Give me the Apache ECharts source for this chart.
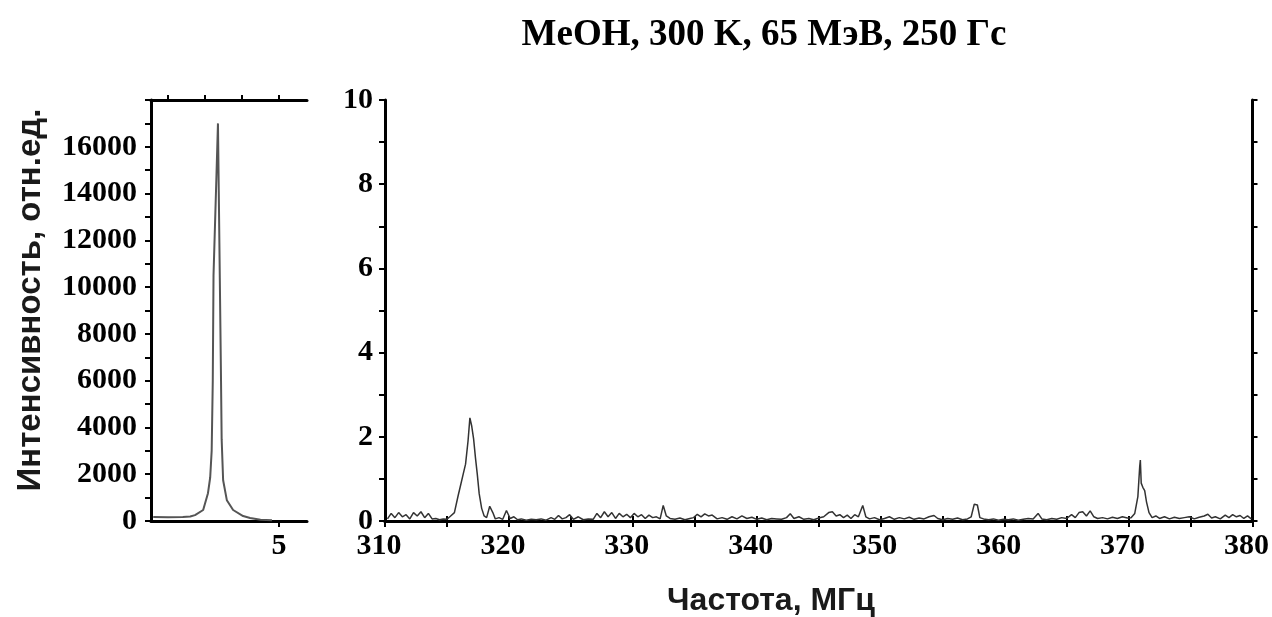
<!DOCTYPE html>
<html>
<head>
<meta charset="utf-8">
<script src="https://cdn.jsdelivr.net/npm/echarts@6/dist/echarts.min.js"></script>
<style>html,body{margin:0;padding:0;background:#fff;}#c{width:1272px;height:617px;}</style>
</head>
<body>
<div id="c"></div>
<script>
// ---- data ----
var titleText = 'MeOH, 300 K, 65 МэВ, 250 Гс';
var yAxisTitle = 'Интенсивность, отн.ед.';
var xAxisTitle = 'Частота, МГц';

// left panel: strong peak (x in arbitrary units, intensity)
var leftX = [1.6, 2.0, 2.4, 2.6, 2.73, 2.95, 3.08, 3.14, 3.18, 3.21, 3.23, 3.27, 3.31, 3.35, 3.40, 3.43, 3.45, 3.49, 3.59, 3.76, 4.03, 4.22, 4.5, 4.81];
var leftY = [170, 165, 175, 190, 250, 470, 1190, 1860, 3000, 6000, 10500, 10500, 14800, 17000, 10400, 6400, 3500, 1740, 890, 470, 210, 130, 50, 30];
var leftXTicks = [2, 3, 4, 5];
var leftXLabels = [5];

// right panel: frequency (MHz) and intensity
var freq = [310.2,310.5,310.8,311.1,311.4,311.7,312.0,312.3,312.6,312.9,313.2,313.5,313.8,314.1,314.4,314.7,315.0,315.3,315.6,315.9,316.1,316.3,316.5,316.7,316.85,317.0,317.15,317.3,317.45,317.6,317.8,318.0,318.2,318.45,318.7,318.9,319.2,319.5,319.8,320.1,320.4,320.7,321.0,321.4,321.8,322.2,322.6,323.0,323.4,323.7,324.0,324.3,324.6,324.9,325.2,325.6,326.0,326.4,326.8,327.1,327.4,327.7,328.0,328.3,328.6,328.9,329.2,329.5,329.8,330.1,330.4,330.7,331.0,331.3,331.6,331.9,332.2,332.45,332.7,333.0,333.4,333.8,334.2,334.6,334.9,335.2,335.5,335.8,336.1,336.4,336.8,337.2,337.6,338.0,338.4,338.8,339.2,339.6,340.0,340.4,340.8,341.2,341.6,342.0,342.4,342.7,343.0,343.4,343.8,344.2,344.6,345.0,345.4,345.8,346.1,346.4,346.7,347.0,347.3,347.6,347.9,348.2,348.55,348.8,349.1,349.5,349.9,350.3,350.7,351.1,351.5,351.9,352.3,352.7,353.1,353.5,353.9,354.3,354.6,355.0,355.4,355.8,356.2,356.6,357.0,357.3,357.55,357.8,358.0,358.3,358.7,359.1,359.5,359.9,360.3,360.7,361.1,361.5,361.9,362.3,362.7,363.0,363.4,363.8,364.2,364.6,365.0,365.4,365.7,366.0,366.3,366.6,366.9,367.2,367.5,367.9,368.3,368.7,369.1,369.5,369.9,370.2,370.5,370.75,370.9,370.95,371.02,371.15,371.3,371.45,371.65,371.9,372.2,372.5,372.9,373.3,373.7,374.1,374.5,374.9,375.3,375.7,376.1,376.4,376.7,377.0,377.4,377.8,378.1,378.4,378.7,379.0,379.3,379.6,379.9];
var intensity = [0.05,0.18,0.08,0.2,0.1,0.15,0.05,0.2,0.12,0.22,0.08,0.18,0.05,0.06,0.03,0.05,0.04,0.12,0.2,0.6,0.85,1.1,1.35,1.9,2.45,2.25,1.95,1.5,1.1,0.65,0.3,0.12,0.08,0.35,0.2,0.05,0.08,0.04,0.25,0.06,0.1,0.03,0.05,0.02,0.04,0.03,0.05,0.02,0.08,0.04,0.13,0.05,0.08,0.15,0.04,0.1,0.03,0.05,0.04,0.18,0.08,0.22,0.1,0.2,0.06,0.18,0.1,0.16,0.08,0.18,0.1,0.15,0.06,0.14,0.08,0.1,0.05,0.37,0.12,0.06,0.04,0.07,0.03,0.06,0.08,0.16,0.1,0.17,0.12,0.14,0.05,0.08,0.04,0.1,0.05,0.12,0.06,0.09,0.04,0.07,0.03,0.06,0.05,0.04,0.08,0.17,0.06,0.1,0.04,0.06,0.03,0.07,0.1,0.2,0.22,0.12,0.15,0.08,0.14,0.06,0.15,0.1,0.37,0.1,0.05,0.08,0.03,0.06,0.1,0.04,0.08,0.05,0.09,0.04,0.07,0.05,0.1,0.13,0.06,0.03,0.06,0.04,0.07,0.03,0.05,0.1,0.4,0.38,0.08,0.05,0.03,0.05,0.02,0.04,0.03,0.05,0.02,0.04,0.06,0.05,0.18,0.05,0.03,0.06,0.04,0.08,0.06,0.15,0.08,0.2,0.22,0.12,0.24,0.1,0.06,0.08,0.05,0.09,0.06,0.1,0.07,0.08,0.18,0.58,1.3,1.45,0.9,0.8,0.72,0.45,0.2,0.08,0.12,0.06,0.1,0.05,0.09,0.06,0.08,0.1,0.05,0.09,0.12,0.16,0.07,0.1,0.05,0.14,0.08,0.15,0.1,0.13,0.06,0.12,0.05];
var rightXLabels = [310, 320, 330, 340, 350, 360, 370, 380];
var leftYLabels = [0, 2000, 4000, 6000, 8000, 10000, 12000, 14000, 16000];
var rightYLabels = [0, 2, 4, 6, 8, 10];

// ---- build ----
function pairs(xs, ys) { return xs.map(function (x, i) { return [x, ys[i]]; }); }
function plain(v) { return String(v); }

var lbl = { fontFamily: 'Liberation Serif', fontWeight: 'bold', fontSize: 30, color: '#000', formatter: plain };
var axLine = { show: true, lineStyle: { color: '#000', width: 3 } };
var tickStyle = { color: '#000', width: 2 };

var chart = echarts.init(document.getElementById('c'));
chart.setOption({
  animation: false,
  backgroundColor: '#fff',
  title: {
    text: titleText, left: 759, top: 12, textAlign: 'center',
    textStyle: { fontFamily: 'Liberation Serif', fontWeight: 'bold', fontSize: 37, color: '#000' }
  },
  graphic: [
    { type: 'text', x: 31, y: 300, rotation: Math.PI / 2,
      style: { text: yAxisTitle, font: 'bold 33px "Liberation Sans"', fill: '#1a1a1a', align: 'center', verticalAlign: 'middle' } },
    { type: 'text', x: 771, y: 601,
      style: { text: xAxisTitle, font: 'bold 32px "Liberation Sans"', fill: '#1a1a1a', align: 'center', verticalAlign: 'middle' } }
  ],
  grid: [
    { left: 151, top: 100, width: 156, height: 421, containLabel: false },
    { left: 385, top: 100, width: 868, height: 421, containLabel: false }
  ],
  xAxis: [
    { gridIndex: 0, type: 'value', position: 'bottom', min: 1.54, max: 5.757,
      axisLine: axLine, splitLine: { show: false },
      axisTick: { show: true, customValues: leftXLabels, length: 6, lineStyle: tickStyle },
      axisLabel: Object.assign({ customValues: leftXLabels, margin: 10 }, lbl) },
    { gridIndex: 0, type: 'value', position: 'top', min: 1.54, max: 5.757,
      axisLine: axLine, splitLine: { show: false },
      axisTick: { show: true, customValues: leftXTicks, length: 5, lineStyle: tickStyle },
      axisLabel: { show: false } },
    { gridIndex: 1, type: 'value', position: 'bottom', min: 310, max: 380, interval: 5,
      axisLine: axLine, splitLine: { show: false },
      axisTick: { show: true, length: 6, lineStyle: tickStyle },
      axisLabel: Object.assign({ customValues: rightXLabels, margin: 10, padding: [0, 12, 0, 0] }, lbl) },
    { gridIndex: 1, type: 'value', position: 'top', min: 310, max: 380, interval: 5,
      axisLine: axLine, splitLine: { show: false },
      axisTick: { show: true, length: 5, lineStyle: tickStyle },
      axisLabel: { show: false } }
  ],
  yAxis: [
    { gridIndex: 0, type: 'value', position: 'left', min: 0, max: 18000, interval: 1000,
      axisLine: axLine, splitLine: { show: false },
      axisTick: { show: true, length: 6, lineStyle: tickStyle },
      axisLabel: Object.assign({ customValues: leftYLabels, margin: 14 }, lbl) },
    { gridIndex: 1, type: 'value', position: 'left', min: 0, max: 10, interval: 1,
      axisLine: axLine, splitLine: { show: false },
      axisTick: { show: true, length: 6, lineStyle: tickStyle },
      axisLabel: Object.assign({ customValues: rightYLabels, margin: 12 }, lbl) },
    { gridIndex: 1, type: 'value', position: 'right', min: 0, max: 10, interval: 1,
      axisLine: axLine, splitLine: { show: false },
      axisTick: { show: true, length: 5, lineStyle: tickStyle },
      axisLabel: { show: false } }
  ],
  series: [
    { type: 'line', xAxisIndex: 0, yAxisIndex: 0, data: pairs(leftX, leftY),
      showSymbol: false, symbol: 'none', lineStyle: { color: '#555', width: 2 } },
    { type: 'line', xAxisIndex: 2, yAxisIndex: 1, data: pairs(freq, intensity),
      showSymbol: false, symbol: 'none', lineStyle: { color: '#333', width: 1.5 } }
  ]
});
</script>
</body>
</html>
